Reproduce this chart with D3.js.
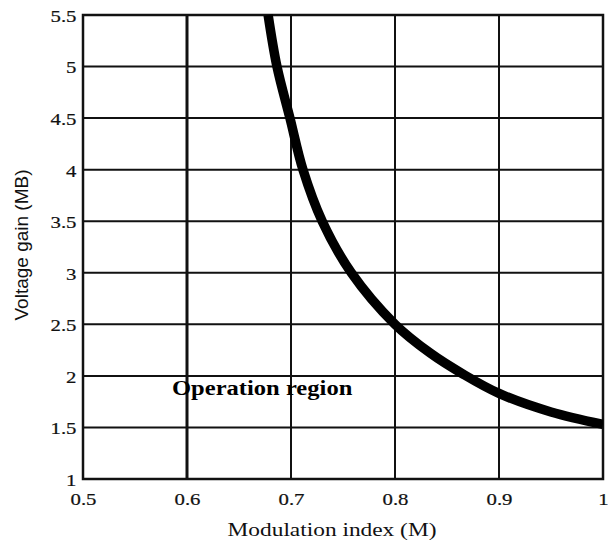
<!DOCTYPE html>
<html><head><meta charset="utf-8">
<script src="https://cdn.jsdelivr.net/npm/d3@7"></script>
<style>body{margin:0;background:#fff}svg{display:block}</style>
</head><body><svg id="c" width="608" height="541"></svg>
<script>
const modulationIndex = [0.678, 0.6865, 0.699, 0.7115, 0.730, 0.758, 0.800, 0.834, 0.865, 0.900, 0.950, 1.000];
const voltageGain     = [5.5,   5.0,    4.5,   4.0,    3.5,   3.0,   2.5,   2.22,  2.02,  1.83,  1.65,  1.53];
const xTicks = [0.5, 0.6, 0.7, 0.8, 0.9, 1];
const xTickLabels = ["0.5", "0.6", "0.7", "0.8", "0.9", "1"];
const yTicks = [1, 1.5, 2, 2.5, 3, 3.5, 4, 4.5, 5, 5.5];
const yTickLabels = ["1", "1.5", "2", "2.5", "3", "3.5", "4", "4.5", "5", "5.5"];
const xTitle = "Modulation index (M)";
const yTitle = "Voltage gain (MB)";
const annotation = "Operation region";

const svg = d3.select("#c");
const L = 83, R = 603, T = 15, B = 479;
const x = d3.scaleLinear().domain([0.5, 1]).range([L, R]);
const y = d3.scaleLinear().domain([1, 5.5]).range([B, T]);
const serif = "'Liberation Serif','Times New Roman',serif";
const sans = "'Liberation Sans',Arial,sans-serif";
const ink = "#111";

// grid
const g = svg.append("g");
g.selectAll("line.v").data(xTicks).join("line")
  .attr("x1", d => x(d)).attr("x2", d => x(d)).attr("y1", T).attr("y2", B)
  .attr("stroke", ink).attr("stroke-width", (d, i) => i === 1 ? 3 : 2);
g.selectAll("line.h").data(yTicks).join("line")
  .attr("y1", d => y(d)).attr("y2", d => y(d)).attr("x1", L).attr("x2", R)
  .attr("stroke", ink).attr("stroke-width", 2);
svg.append("rect").attr("x", L).attr("y", T).attr("width", R - L).attr("height", B - T)
  .attr("fill", "none").attr("stroke", ink).attr("stroke-width", 2.5);

// x tick labels
const xAxis = d3.axisBottom(x).tickValues(xTicks).tickSize(0)
  .tickFormat((d, i) => xTickLabels[i]);
const xa = svg.append("g").attr("transform", `translate(0,${B})`).call(xAxis);
xa.select(".domain").remove();
xa.attr("font-family", serif);
xa.selectAll("text").attr("y", 26).attr("dy", 0)
  .attr("font-family", serif).attr("font-size", 16).attr("fill", ink)
  .attr("stroke", ink).attr("stroke-width", 0.2)
  .attr("transform", "scale(1.3,1)");

// y tick labels
const yAxis = d3.axisLeft(y).tickValues(yTicks).tickSize(0).tickPadding(5)
  .tickFormat((d, i) => yTickLabels[i]);
const ya = svg.append("g").attr("transform", `translate(${L},0)`).call(yAxis);
ya.select(".domain").remove();
ya.attr("font-family", serif);
ya.selectAll("text").attr("dy", "0.4em")
  .attr("font-family", serif).attr("font-size", 16).attr("fill", ink)
  .attr("stroke", ink).attr("stroke-width", 0.2)
  .attr("transform", "scale(1.3,1)");

// curve
const pts = modulationIndex.map((m, i) => [m, voltageGain[i]]);
svg.append("clipPath").attr("id", "clip").append("rect")
  .attr("x", L).attr("y", T - 1).attr("width", R - L).attr("height", B - T + 1);
svg.append("path").datum(pts)
  .attr("clip-path", "url(#clip)")
  .attr("d", d3.line().x(d => x(d[0])).y(d => y(d[1])).curve(d3.curveCatmullRom.alpha(0.5)))
  .attr("fill", "none").attr("stroke", "#000").attr("stroke-width", 9.5);

// titles
svg.append("text").attr("transform", "translate(332,536) scale(1.23,1)")
  .attr("text-anchor", "middle").attr("font-family", serif).attr("font-size", 19)
  .attr("fill", ink).text(xTitle);
svg.append("text").attr("transform", "translate(28,245) rotate(-90)")
  .attr("text-anchor", "middle").attr("font-family", sans).attr("font-size", 19)
  .attr("fill", ink).text(yTitle);
svg.append("text").attr("transform", "translate(172,395) scale(1.17,1)")
  .attr("font-family", serif).attr("font-size", 21).attr("font-weight", "bold")
  .attr("fill", "#000").text(annotation);
</script></body></html>
